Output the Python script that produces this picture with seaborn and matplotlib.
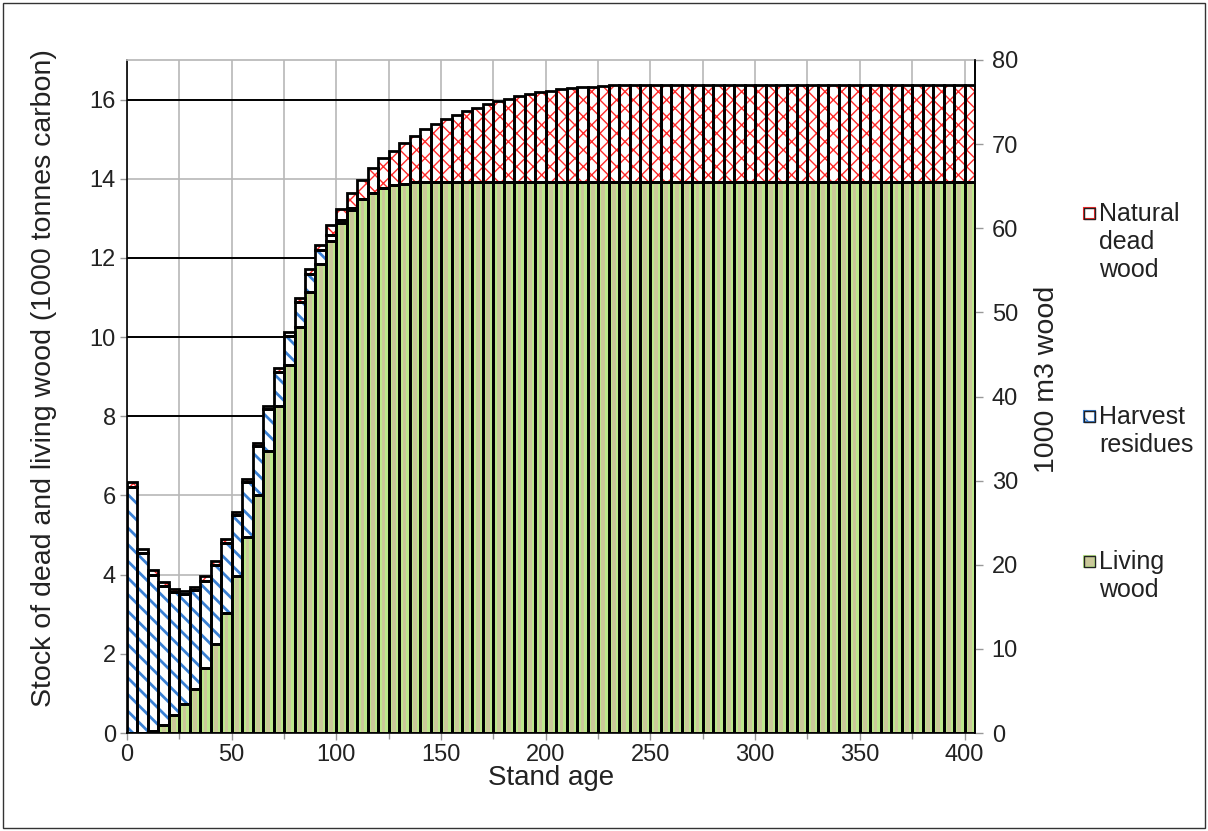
import numpy as np
import pandas as pd
import matplotlib
matplotlib.use("Agg")
import matplotlib.pyplot as plt
from matplotlib.patches import Rectangle
import seaborn as sns

# ---------------- data ----------------
ages = list(range(0, 405, 5))  # stand age classes (0..400)

living = [0.0, 0.0, 0.05, 0.2, 0.45, 0.73, 1.1, 1.63, 2.25, 3.04,
          3.96, 4.94, 6.01, 7.13, 8.26, 9.29, 10.26, 11.14, 11.84, 12.43,
          12.87, 13.2, 13.48, 13.64, 13.77, 13.84, 13.88, 13.91,
          13.93, 13.93, 13.93, 13.93, 13.93, 13.93, 13.93, 13.93, 13.93, 13.93,
          13.93, 13.93, 13.93, 13.93, 13.93, 13.93, 13.93, 13.93, 13.93, 13.93,
          13.93, 13.93, 13.93, 13.93, 13.93, 13.93, 13.93, 13.93, 13.93, 13.93,
          13.93, 13.93, 13.93, 13.93, 13.93, 13.93, 13.93, 13.93, 13.93, 13.93,
          13.93, 13.93, 13.93, 13.93, 13.93, 13.93, 13.93, 13.93, 13.93, 13.93,
          13.93, 13.93, 13.93]

harvest = [6.22, 4.54, 3.95, 3.51, 3.1, 2.77, 2.5, 2.22, 2.0, 1.77,
           1.55, 1.39, 1.24, 1.05, 0.86, 0.74, 0.62, 0.46, 0.36, 0.15,
           0.1, 0.05, 0, 0, 0, 0, 0, 0, 0, 0,
           0, 0, 0, 0, 0, 0, 0, 0, 0, 0,
           0, 0, 0, 0, 0, 0, 0, 0, 0, 0,
           0, 0, 0, 0, 0, 0, 0, 0, 0, 0,
           0, 0, 0, 0, 0, 0, 0, 0, 0, 0,
           0, 0, 0, 0, 0, 0, 0, 0, 0, 0,
           0]

natural = [0.13, 0.12, 0.12, 0.11, 0.08, 0.09, 0.09, 0.11, 0.09, 0.08,
           0.08, 0.08, 0.08, 0.08, 0.09, 0.10, 0.10, 0.12, 0.12, 0.25,
           0.26, 0.39, 0.50, 0.64, 0.75, 0.86, 1.02, 1.17, 1.32, 1.45,
           1.57, 1.68, 1.79, 1.87, 1.95, 2.03, 2.09, 2.15, 2.20, 2.25,
           2.29, 2.33, 2.36, 2.38, 2.40, 2.42, 2.43, 2.44, 2.45, 2.45,
           2.45, 2.45, 2.45, 2.45, 2.45, 2.45, 2.45, 2.45, 2.45, 2.45,
           2.45, 2.45, 2.45, 2.45, 2.45, 2.45, 2.45, 2.45, 2.45, 2.45,
           2.45, 2.45, 2.45, 2.45, 2.45, 2.45, 2.45, 2.45, 2.45, 2.45,
           2.45]

series_labels = ["Natural\ndead\nwood", "Harvest\nresidues", "Living\nwood"]
x_ticks = [0, 50, 100, 150, 200, 250, 300, 350, 400]
left_ticks = [0, 2, 4, 6, 8, 10, 12, 14, 16]
right_ticks = [0, 10, 20, 30, 40, 50, 60, 70, 80]
ref_levels = [8, 10, 12, 16]       # dark horizontal reference lines
ref_ends = [65, 75, 90, 175]        # stand age where each line meets the bars

df = pd.DataFrame({"age": ages, "living": living, "harvest": harvest, "natural": natural})
df["b_harv"] = df["living"]
df["b_nat"] = df["living"] + df["harvest"]

# ---------------- style ----------------
sns.set_theme(style="white")
plt.rcParams["font.family"] = ["Liberation Sans", "DejaVu Sans"]
plt.rcParams["hatch.linewidth"] = 2.0

fig = plt.figure(figsize=(12.08, 8.31), dpi=100)
ax = fig.add_axes([127 / 1208, 1 - 733 / 831, (975 - 127) / 1208, (733 - 60) / 831])

W = 5.0
EDGE = 2.0
GREEN_LIGHT = "#bde88c"
KHAKI = "#cbc89a"
BLUE = "#3a80d4"
RED = "#ff2a2a"
TICK_FS = 17
LAB_FS = 20.5

# grid
ax.set_xlim(0, 405)
ax.set_ylim(0, 17)
ax.set_xticks(x_ticks)
ax.set_xticks(np.arange(25, 405, 50), minor=True)
ax.set_yticks(left_ticks)
ax.set_axisbelow(True)
ax.grid(True, which="both", axis="x", color="#b8b8b8", lw=1.2)
ax.grid(True, which="major", axis="y", color="#b8b8b8", lw=1.2)

# reference lines
for lev, end in zip(ref_levels, ref_ends):
    ax.plot([0, end], [lev, lev], color="black", lw=1.4, zorder=1)

# living wood: light green bar with khaki centre
ax.bar(df["age"], df["living"], width=W, align="edge", color=GREEN_LIGHT, lw=0, zorder=2)
ax.bar(df["age"] + 1.6, df["living"], width=W - 3.2, align="edge", color=KHAKI, lw=0, zorder=2)
ax.bar(df["age"], df["living"], width=W, align="edge", fill=False, edgecolor="black", lw=EDGE, zorder=4)

# harvest residues: blue diagonal stripes
ax.bar(df["age"], df["harvest"], bottom=df["b_harv"], width=W, align="edge",
       facecolor="white", edgecolor=BLUE, hatch="\\\\", lw=0, zorder=2)
ax.bar(df["age"], df["harvest"], bottom=df["b_harv"], width=W, align="edge",
       fill=False, edgecolor="black", lw=EDGE, zorder=4)

# natural dead wood: red cross hatch
plt.rcParams["hatch.linewidth"] = 1.0
ax.bar(df["age"], df["natural"], bottom=df["b_nat"], width=W, align="edge",
       facecolor="white", edgecolor=RED, hatch="xx", lw=0, zorder=2)
ax.bar(df["age"], df["natural"], bottom=df["b_nat"], width=W, align="edge",
       fill=False, edgecolor="black", lw=EDGE, zorder=4)

# spines and ticks
for s in ["left", "bottom", "right"]:
    ax.spines[s].set_color("black")
    ax.spines[s].set_linewidth(1.2)
ax.spines["top"].set_color("#b8b8b8")
ax.tick_params(axis="both", which="major", direction="out", length=5, width=1,
               color="#999999", labelsize=TICK_FS, pad=3, bottom=True, left=True,
               labelcolor="#222222")
ax.tick_params(axis="x", which="minor", direction="out", length=4, width=1,
               color="#999999", bottom=True)
ax.set_xlabel("Stand age", fontsize=20, color="#222222")
ax.set_ylabel("Stock of dead and living wood (1000 tonnes carbon)", fontsize=LAB_FS,
              color="#222222")
ax.xaxis.set_label_coords(0.5, -0.048)
ax.yaxis.set_label_coords(-0.082, 0.527)

ax2 = ax.twinx()
ax2.set_ylim(0, 80)
ax2.set_yticks(right_ticks)
ax2.tick_params(axis="y", direction="out", length=6, width=1, color="#999999",
                labelsize=TICK_FS, pad=6, right=True, labelcolor="#222222")
ax2.set_ylabel("1000 m3 wood", fontsize=LAB_FS, color="#222222")
ax2.yaxis.set_label_coords(1.0696, 0.525)
for s in ["left", "bottom", "top"]:
    ax2.spines[s].set_visible(False)
ax2.spines["right"].set_color("black")
ax2.spines["right"].set_linewidth(1.2)
ax2.grid(False)

# manual legend (right side)
leg_marker_y = [213, 416, 561]
leg_faces = ["white", "white", KHAKI]
leg_hatch = ["", "\\\\", ""]
leg_edges = [RED, BLUE, GREEN_LIGHT]
for lab, ypx, fc, h, ec in zip(series_labels, leg_marker_y, leg_faces, leg_hatch, leg_edges):
    fx, fy = 1084 / 1208, 1 - (ypx + 6) / 831
    fw, fh = 11 / 1208, 11 / 831
    fig.patches.append(Rectangle((fx, fy), fw, fh, transform=fig.transFigure,
                                 facecolor=fc, edgecolor=ec, hatch=h, lw=1.5, zorder=5))
    fig.patches.append(Rectangle((fx, fy), fw, fh, transform=fig.transFigure,
                                 fill=False, edgecolor="#222222", lw=1.0, zorder=6))
    fig.text(1099 / 1208, 1 - (ypx - 11) / 831, lab, fontsize=18, va="top", ha="left",
             linespacing=1.2, color="#222222")

# outer frame
fig.patches.append(Rectangle((3 / 1208, 3 / 831), 1202 / 1208, 825 / 831,
                             transform=fig.transFigure, fill=False,
                             edgecolor="#333333", lw=1.0))

fig.savefig("out.png", dpi=100)
